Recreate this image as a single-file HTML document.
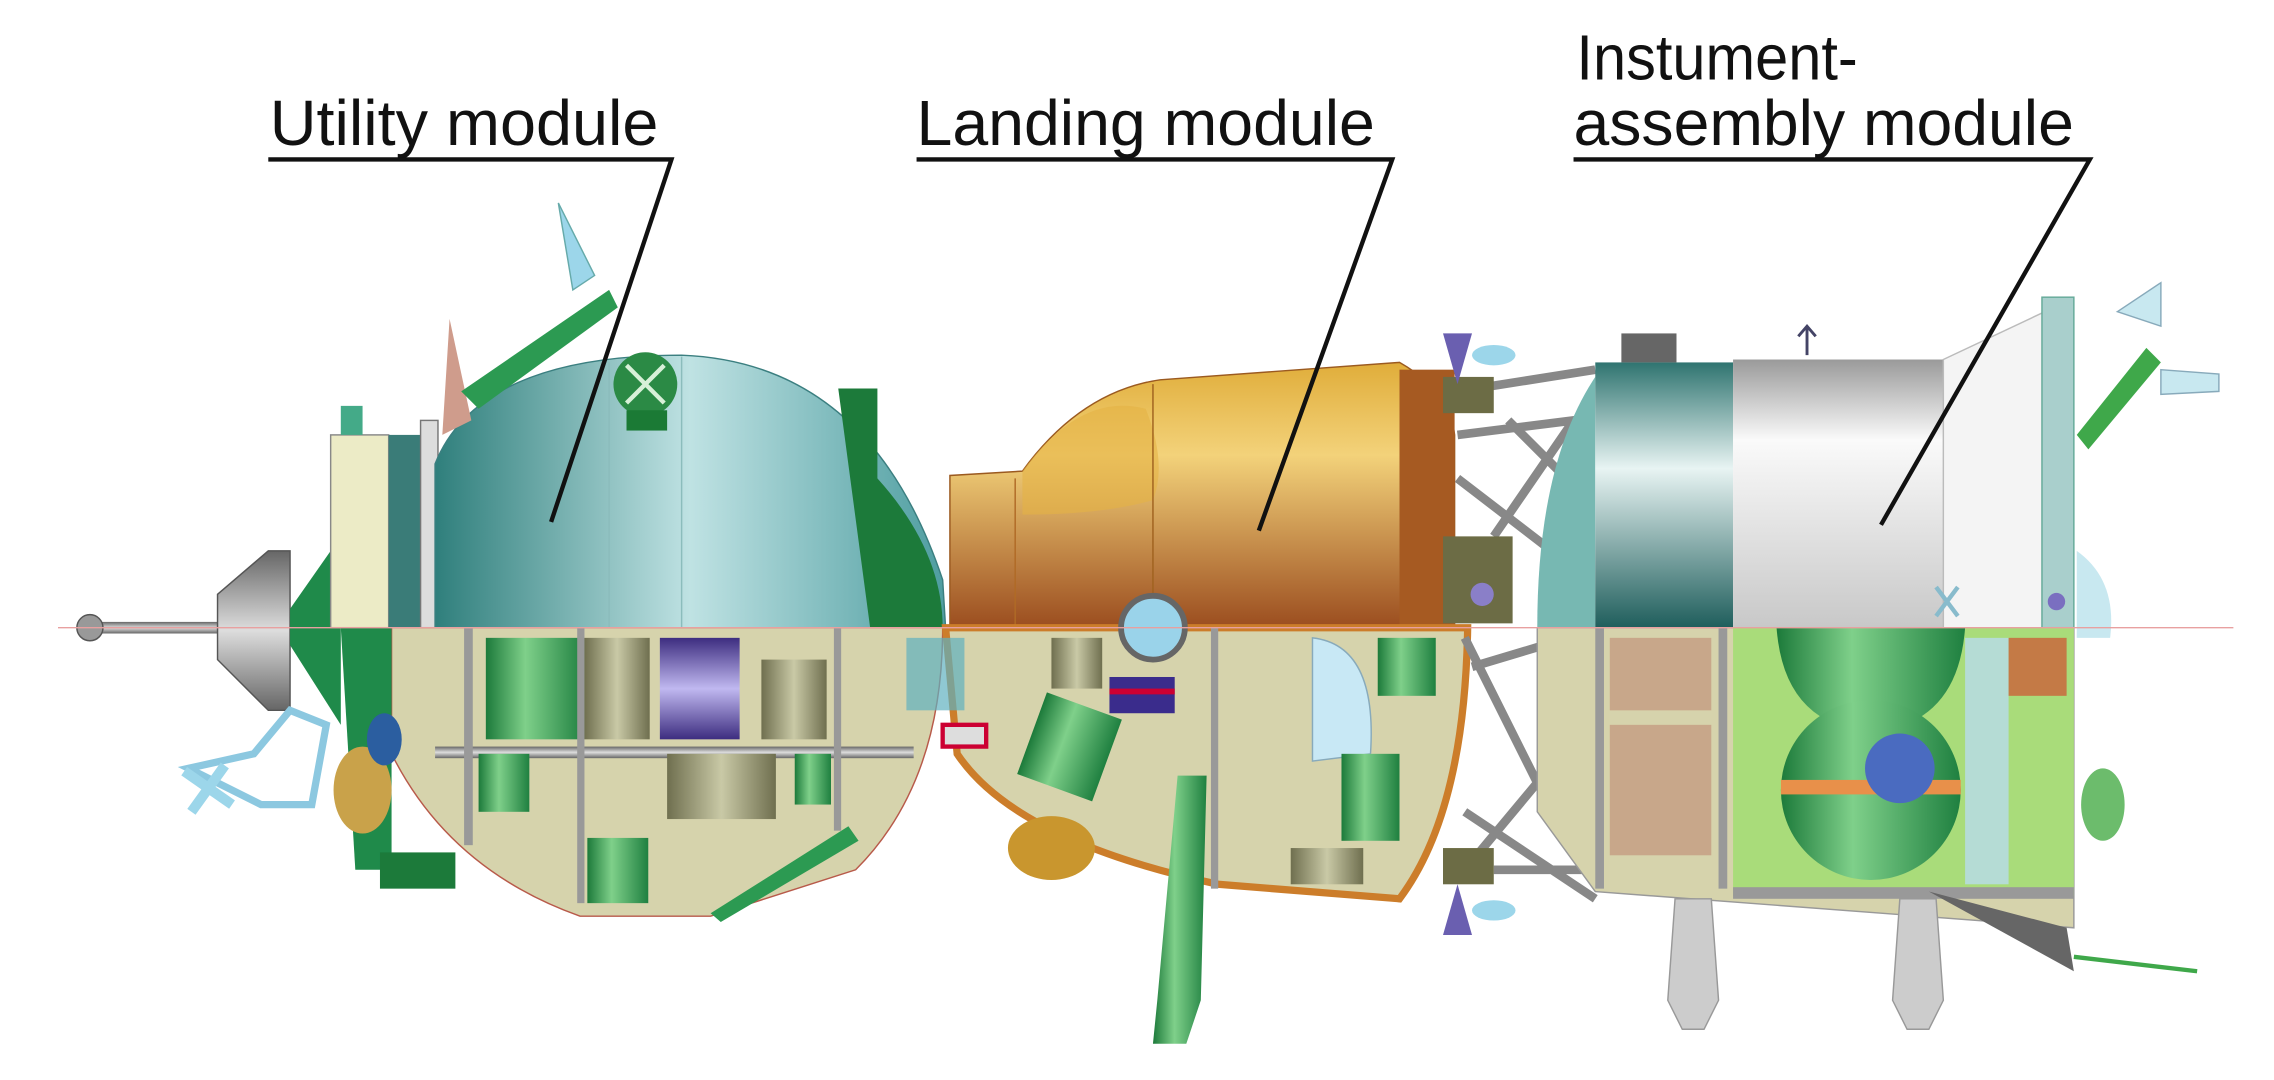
<!DOCTYPE html>
<html><head><meta charset="utf-8"><style>
html,body{margin:0;padding:0;background:#fff;width:2274px;height:1080px;overflow:hidden}
svg{display:block}
text{font-family:"Liberation Sans",sans-serif;fill:#111}
</style></head><body>
<svg width="2274" height="1080" viewBox="0 0 1568 745" preserveAspectRatio="none" xmlns="http://www.w3.org/2000/svg">
<defs>
<linearGradient id="teal" x1="0" y1="0" x2="1" y2="0"><stop offset="0" stop-color="#2f7f7c"/><stop offset="0.5" stop-color="#bfe2e3"/><stop offset="1" stop-color="#4e9da0"/></linearGradient>
<linearGradient id="tealv" x1="0" y1="0" x2="0" y2="1"><stop offset="0" stop-color="#2f7470"/><stop offset="0.4" stop-color="#e8f4f3"/><stop offset="1" stop-color="#1f5e5c"/></linearGradient>
<linearGradient id="bronze" x1="0" y1="0" x2="0" y2="1"><stop offset="0" stop-color="#e0ad3a"/><stop offset="0.35" stop-color="#f3d27a"/><stop offset="1" stop-color="#9b4d1f"/></linearGradient>
<linearGradient id="white" x1="0" y1="0" x2="0" y2="1"><stop offset="0" stop-color="#9a9a9a"/><stop offset="0.3" stop-color="#fafafa"/><stop offset="1" stop-color="#c8c8c8"/></linearGradient>
<linearGradient id="grn" x1="0" y1="0" x2="1" y2="0"><stop offset="0" stop-color="#1c7a3a"/><stop offset="0.4" stop-color="#7fd08a"/><stop offset="1" stop-color="#1f8040"/></linearGradient>
<linearGradient id="gray" x1="0" y1="0" x2="0" y2="1"><stop offset="0" stop-color="#666"/><stop offset="0.5" stop-color="#ddd"/><stop offset="1" stop-color="#666"/></linearGradient>
<linearGradient id="olive" x1="0" y1="0" x2="1" y2="0"><stop offset="0" stop-color="#6f6f4f"/><stop offset="0.5" stop-color="#c9c9a6"/><stop offset="1" stop-color="#6f6f4f"/></linearGradient>
<linearGradient id="purp" x1="0" y1="0" x2="0" y2="1"><stop offset="0" stop-color="#3d2d80"/><stop offset="0.5" stop-color="#c0b8f0"/><stop offset="1" stop-color="#3d2d80"/></linearGradient>
</defs>

<!-- labels -->
<text x="186" y="100" font-size="44" textLength="268" lengthAdjust="spacingAndGlyphs">Utility module</text>
<text x="632" y="100" font-size="44" textLength="316" lengthAdjust="spacingAndGlyphs">Landing module</text>
<text x="1087" y="55" font-size="44" textLength="194" lengthAdjust="spacingAndGlyphs">Instument-</text>
<text x="1085" y="100" font-size="44" textLength="345" lengthAdjust="spacingAndGlyphs">assembly module</text>

<!-- docking probe -->
<rect x="60" y="429" width="100" height="8" fill="url(#gray)"/>
<circle cx="62" cy="433" r="9" fill="#999" stroke="#555"/>
<path d="M150 410 L185 380 L200 380 L200 490 L185 490 L150 455Z" fill="url(#gray)" stroke="#555"/>
<path d="M200 420 L235 370 L235 500 L200 445Z" fill="#1f8a4a"/>

<!-- utility module top -->
<rect x="228" y="300" width="40" height="133" fill="#ecebc6" stroke="#888"/>
<rect x="268" y="300" width="30" height="133" fill="#3a7c78"/>
<rect x="290" y="290" width="12" height="143" fill="#ddd" stroke="#777"/>
<path d="M300 433 L300 320 Q330 245 470 245 Q600 250 650 400 L652 433Z" fill="url(#teal)" stroke="#3b7f80"/>
<line x1="420" y1="250" x2="420" y2="433" stroke="#8bbcbc"/>
<line x1="470" y1="246" x2="470" y2="433" stroke="#8bbcbc"/>
<path d="M578 268 L605 268 L605 330 Q650 380 650 433 L600 433Z" fill="#1c7a3a"/>
<circle cx="445" cy="265" r="22" fill="#2b8a45"/><path d="M432 252L458 278M458 252L432 278" stroke="#d8f0d8" stroke-width="3"/>
<rect x="432" y="283" width="28" height="14" fill="#1b7a35"/>
<path d="M310 220 L325 290 L305 300Z" fill="#cf9c8c"/>
<path d="M318 270 L420 200 L426 212 L330 282Z" fill="#2c9a52"/>
<path d="M385 140 L395 200 L410 190 Z" fill="#9cd6ea" stroke="#6aa"/>
<path d="M235 280 L250 280 L250 300 L235 300Z" fill="#4a8"/>

<!-- utility lower -->
<path d="M270 433 L650 433 Q650 540 590 600 L490 632 L400 632 Q310 600 270 520Z" fill="#d6d3ac" stroke="#b85a4a"/>
<rect x="335" y="440" width="68" height="70" fill="url(#grn)"/>
<rect x="403" y="440" width="45" height="70" fill="url(#olive)"/>
<rect x="455" y="440" width="55" height="70" fill="url(#purp)"/>
<rect x="525" y="455" width="45" height="55" fill="url(#olive)"/>
<rect x="300" y="515" width="330" height="8" fill="url(#gray)"/>
<rect x="330" y="520" width="35" height="40" fill="url(#grn)"/>
<rect x="460" y="520" width="75" height="45" fill="url(#olive)"/>
<rect x="548" y="520" width="25" height="35" fill="url(#grn)"/>
<rect x="405" y="578" width="42" height="45" fill="url(#grn)"/>
<path d="M490 630 L585 570 L592 580 L497 636Z" fill="#2c9a52"/>
<rect x="320" y="433" width="6" height="150" fill="#999"/><rect x="398" y="433" width="5" height="190" fill="#999"/>
<rect x="575" y="433" width="5" height="140" fill="#999"/>
<path d="M235 433 L270 433 L270 600 L245 600Z" fill="#1f8a4a"/>
<rect x="262" y="588" width="52" height="25" fill="#1c7a3a"/>
<ellipse cx="250" cy="545" rx="20" ry="30" fill="#c9a24a"/>
<ellipse cx="265" cy="510" rx="12" ry="18" fill="#2b5ea0"/>
<path d="M130 530 L175 520 L200 490 L225 500 L215 555 L180 555Z" fill="none" stroke="#8cc8e0" stroke-width="5"/>
<path d="M127 532 L160 555 M155 528 L132 560" stroke="#9cd6ea" stroke-width="7"/>

<!-- landing module -->
<path d="M655 433 L655 328 L705 325 Q745 270 800 262 L965 250 Q1000 270 1003 300 L1003 433Z" fill="url(#bronze)" stroke="#9b5a20"/>
<path d="M705 325 Q745 270 790 282 Q805 320 795 345 Q760 355 705 355Z" fill="#e5b245" opacity=".6"/>
<line x1="795" y1="265" x2="795" y2="433" stroke="#a0621f"/>
<line x1="700" y1="330" x2="700" y2="433" stroke="#b06a26"/>
<rect x="965" y="255" width="38" height="178" fill="#a65a22"/>
<path d="M652 433 L1012 433 Q1010 560 965 620 L840 610 Q700 580 660 520 Z" fill="#d6d3ac" stroke="#cc7d2a" stroke-width="5"/>
<circle cx="795" cy="433" r="22" fill="#9ad3ea" stroke="#666" stroke-width="4"/>
<rect x="710" y="485" width="55" height="60" fill="url(#grn)" transform="rotate(20 737 515)"/>
<rect x="765" y="467" width="45" height="25" fill="#3a2c8c"/><rect x="765" y="475" width="45" height="4" fill="#c03"/>
<rect x="725" y="440" width="35" height="35" fill="url(#olive)"/>
<path d="M905 440 Q950 445 945 520 L905 525Z" fill="#c8e8f5" stroke="#8ab"/>
<rect x="950" y="440" width="40" height="40" fill="url(#grn)"/>
<rect x="925" y="520" width="40" height="60" fill="url(#grn)"/>
<rect x="890" y="585" width="50" height="25" fill="url(#olive)"/>
<ellipse cx="725" cy="585" rx="30" ry="22" fill="#c9962e"/>
<rect x="650" y="500" width="30" height="15" fill="#ddd" stroke="#c03" stroke-width="3"/>
<rect x="835" y="433" width="5" height="180" fill="#999"/>
<path d="M812 535 L832 535 L828 690 L818 720 L795 720 L798 690Z" fill="url(#grn)"/>
<rect x="625" y="440" width="40" height="50" fill="#5fb0bf" opacity=".7"/>

<!-- truss -->
<g stroke="#888" stroke-width="6" fill="none">
<path d="M1005 270 L1100 255 M1005 300 L1085 290 L1030 370 M1040 290 L1090 340 M1005 330 L1070 380"/>
<path d="M1010 440 L1060 540 L1010 600 M1030 600 L1100 600 M1010 560 L1100 620 M1015 460 L1065 445"/>
</g>
<rect x="995" y="260" width="35" height="25" fill="#6c6c45"/>
<rect x="995" y="370" width="48" height="60" fill="#6c6c45"/><circle cx="1022" cy="410" r="8" fill="#8a7fc8"/>
<rect x="995" y="585" width="35" height="25" fill="#6c6c45"/>
<path d="M995 230 L1005 265 L1015 230Z" fill="#6a5fb0"/><path d="M995 645 L1005 610 L1015 645Z" fill="#6a5fb0"/>
<ellipse cx="1030" cy="245" rx="15" ry="7" fill="#9cd6ea"/><ellipse cx="1030" cy="628" rx="15" ry="7" fill="#9cd6ea"/>

<!-- instrument module top -->
<path d="M1100 260 Q1060 320 1060 433 L1100 433Z" fill="#77b8b2"/>
<rect x="1100" y="250" width="95" height="183" fill="url(#tealv)"/>
<rect x="1118" y="230" width="38" height="20" fill="#666"/>
<rect x="1195" y="248" width="145" height="185" fill="url(#white)"/>
<path d="M1340 248 L1410 215 L1410 433 L1340 433Z" fill="#f4f4f4" stroke="#bbb"/>
<rect x="1408" y="205" width="22" height="228" fill="#a9cfcc" stroke="#6a9"/>
<path d="M1246 225 L1246 245 M1240 232 L1246 225 L1252 232" stroke="#446" stroke-width="2" fill="none"/>
<path d="M1335 405 L1350 425 M1350 405 L1335 425" stroke="#8bc" stroke-width="3"/>
<circle cx="1418" cy="415" r="6" fill="#7a6fc0"/>
<path d="M1432 300 L1480 240 L1490 250 L1440 310Z" fill="#3fa84a"/>
<path d="M1460 215 L1490 195 L1490 225Z" fill="#c8e8f0" stroke="#8ab"/>
<path d="M1490 255 L1530 258 L1530 270 L1490 272Z" fill="#c8e8f0" stroke="#8ab"/>
<path d="M1432 380 Q1460 400 1455 440 L1432 440Z" fill="#c8e8f0"/>

<!-- instrument lower -->
<path d="M1060 433 L1430 433 L1430 640 L1100 615 L1060 560Z" fill="#d6d3ac" stroke="#999"/>
<rect x="1195" y="433" width="235" height="185" fill="#a9dc7a"/>
<rect x="1110" y="440" width="70" height="50" fill="#c8a78a"/>
<rect x="1110" y="500" width="70" height="90" fill="#c8a78a"/>
<rect x="1100" y="433" width="6" height="180" fill="#999"/><rect x="1185" y="433" width="6" height="180" fill="#999"/>
<path d="M1225 433 L1355 433 Q1350 500 1290 505 Q1230 500 1225 433Z" fill="url(#grn)"/>
<circle cx="1290" cy="545" r="62" fill="url(#grn)"/>
<rect x="1228" y="538" width="124" height="10" fill="#e8904a"/>
<circle cx="1310" cy="530" r="24" fill="#4a6bc0"/>
<rect x="1355" y="440" width="30" height="170" fill="#b8dcec" opacity=".8"/>
<rect x="1385" y="440" width="40" height="40" fill="#d05030" opacity=".7"/>
<rect x="1195" y="612" width="235" height="8" fill="#999"/>
<path d="M1330 615 L1430 670 L1425 640Z" fill="#666"/>
<path d="M1430 660 L1515 670" stroke="#3fa84a" stroke-width="3"/>
<path d="M1155 620 L1180 620 L1185 690 L1175 710 L1160 710 L1150 690Z" fill="#ccc" stroke="#999"/>
<path d="M1310 620 L1335 620 L1340 690 L1330 710 L1315 710 L1305 690Z" fill="#ccc" stroke="#999"/>
<ellipse cx="1450" cy="555" rx="15" ry="25" fill="#6cbc6c"/>

<!-- centerline -->
<line x1="40" y1="433" x2="1540" y2="433" stroke="#e8a0a0" stroke-width="1"/>

<!-- leader lines -->
<g stroke="#111" stroke-width="3" fill="none">
<path d="M185 110 L463 110 L380 360"/>
<path d="M632 110 L960 110 L868 366"/>
<path d="M1085 110 L1441 110 L1297 362"/>
</g>
</svg>
</body></html>
